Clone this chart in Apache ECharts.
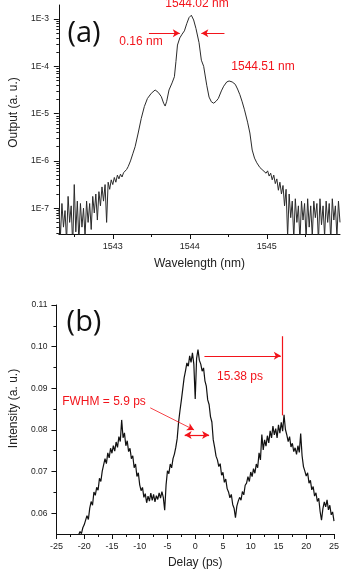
<!DOCTYPE html>
<html>
<head>
<meta charset="utf-8">
<title>Spectrum and autocorrelation</title>
<script src="https://cdn.jsdelivr.net/npm/echarts@6/dist/echarts.min.js"></script>
<style>
  html, body { margin: 0; padding: 0; background: #fff; }
  #chart { width: 342px; height: 571px; }
</style>
</head>
<body>
<div id="chart"></div>
<script>
// (a) output spectrum (values kept as log10 of the output)
var wavelength = [
  1542.30,1542.32,1542.34,1542.36,1542.38,1542.40,1542.42,1542.44,1542.46,1542.48,
  1542.50,1542.52,1542.54,1542.56,1542.58,1542.60,1542.62,1542.64,1542.66,1542.68,
  1542.70,1542.72,1542.74,1542.76,1542.78,1542.80,1542.82,1542.84,1542.86,1542.88,
  1542.90,1542.92,1542.94,1542.96,1542.98,1543.00,1543.02,1543.04,1543.06,1543.08,
  1543.10,1543.12,1543.14,1543.16,1543.18,1543.20,
  1543.23,1543.26,1543.29,1543.33,1543.37,1543.41,1543.45,1543.50,1543.55,1543.59,
  1543.63,1543.66,1543.68,1543.70,1543.73,1543.77,1543.80,1543.82,1543.84,1543.87,
  1543.90,1543.93,1543.96,1543.99,1544.02,1544.05,1544.08,1544.12,1544.15,1544.18,
  1544.22,1544.25,1544.28,1544.31,1544.34,1544.37,1544.41,1544.44,1544.48,1544.51,
  1544.55,1544.59,1544.62,1544.65,1544.68,1544.71,1544.75,1544.78,1544.81,1544.84,
  1544.87,
  1544.89,1544.91,1544.93,1544.95,1544.97,1544.99,1545.01,1545.03,1545.05,1545.07,
  1545.09,1545.11,1545.13,1545.15,1545.17,1545.19,1545.21,1545.23,1545.25,1545.27,
  1545.29,1545.31,1545.33,1545.35,1545.37,1545.39,1545.41,1545.43,1545.45,1545.47,
  1545.49,1545.51,1545.53,1545.55,1545.57,1545.59,1545.61,1545.63,1545.65,1545.67,
  1545.69,1545.71,1545.73,1545.75,1545.77,1545.79,1545.81,1545.83,1545.85,1545.87,
  1545.89,1545.91,1545.93,1545.95
];
var outputLog10 = [
  -7.00,-7.60,-6.90,-7.40,-7.05,-7.70,-6.75,-7.30,-6.95,-7.80,
  -6.50,-7.50,-6.85,-7.70,-6.90,-7.40,-7.00,-7.60,-6.85,-7.30,
  -6.90,-7.45,-6.75,-7.10,-6.70,-7.25,-6.65,-6.95,-6.55,-6.85,
  -6.50,-7.30,-6.45,-6.60,-6.40,-6.50,-6.35,-6.45,-6.30,-6.38,
  -6.28,-6.34,-6.25,-6.22,-6.18,-6.12,
  -6.00,-5.85,-5.70,-5.41,-5.10,-4.85,-4.68,-4.57,-4.50,-4.55,
  -4.64,-4.78,-4.84,-4.74,-4.50,-4.35,-4.22,-3.90,-3.55,-3.40,
  -3.32,-3.25,-3.10,-2.97,-2.92,-3.02,-3.20,-3.50,-3.87,-4.00,
  -4.40,-4.65,-4.75,-4.78,-4.74,-4.68,-4.52,-4.42,-4.33,-4.31,
  -4.33,-4.38,-4.48,-4.60,-4.75,-4.92,-5.18,-5.41,-5.77,-5.94,
  -6.04,
  -6.08,-6.14,-6.11,-6.20,-6.16,-6.26,-6.21,-6.32,-6.26,-6.40,
  -6.30,-6.48,-6.38,-6.62,-6.45,-6.70,-6.52,-6.95,-6.60,-7.60,
  -6.70,-7.20,-6.85,-7.65,-6.80,-7.30,-6.95,-7.70,-6.85,-7.25,
  -6.90,-7.65,-6.80,-7.40,-6.95,-7.60,-6.85,-7.20,-6.90,-7.70,
  -6.80,-7.35,-6.95,-7.60,-6.85,-7.30,-6.90,-7.70,-6.80,-7.25,
  -6.95,-7.60,-6.85,-7.30
];
var specTicks = [1e-7, 1e-6, 1e-5, 1e-4, 1e-3];
var specMinorTicks = [
  3e-8,4e-8,5e-8,6e-8,7e-8,8e-8,9e-8,
  2e-7,3e-7,4e-7,5e-7,6e-7,7e-7,8e-7,9e-7,
  2e-6,3e-6,4e-6,5e-6,6e-6,7e-6,8e-6,9e-6,
  2e-5,3e-5,4e-5,5e-5,6e-5,7e-5,8e-5,9e-5,
  2e-4,3e-4,4e-4,5e-4,6e-4,7e-4,8e-4,9e-4
];
var wlTicks = [1543, 1544, 1545];
var wlMinorTicks = [1542.5, 1543.5, 1544.5, 1545.5];

// (b) autocorrelation trace
var delay = [
  -21,-20.75,-20.5,-20.25,-20,-19.75,-19.5,-19.25,-19,-18.75,-18.5,-18.25,-18,-17.75,-17.5,-17.25,
  -17,-16.75,-16.5,-16.25,-16,-15.75,-15.5,-15.25,-15,-14.75,-14.5,-14.25,-14,-13.75,-13.5,-13.25,
  -13,-12.75,-12.5,-12.25,-12,-11.75,-11.5,-11.25,-11,-10.75,-10.5,-10.25,-10,-9.75,-9.5,-9.25,
  -9,-8.75,-8.5,-8.25,-8,-7.75,-7.5,-7.25,-7,-6.75,-6.5,-6.25,-6,-5.75,-5.5,-5.25,
  -5,-4.75,-4.5,-4.25,-4,-3.75,-3.5,-3.25,-3,-2.75,-2.5,-2.25,-2,-1.75,-1.5,-1.25,
  -1,-0.75,-0.5,-0.25,0,0.25,0.5,0.75,1,1.25,1.5,1.75,2,2.25,2.5,2.75,
  3,3.25,3.5,3.75,4,4.25,4.5,4.75,5,5.25,5.5,5.75,6,6.25,6.5,6.75,
  7,7.25,7.5,7.75,8,8.25,8.5,8.75,9,9.25,9.5,9.75,10,10.25,10.5,10.75,
  11,11.25,11.5,11.75,12,12.25,12.5,12.75,13,13.25,13.5,13.75,14,14.25,14.5,14.75,
  15,15.25,15.5,15.75,16,16.25,16.5,16.75,17,17.25,17.5,17.75,18,18.25,18.5,18.75,
  19,19.25,19.5,19.75,20,20.25,20.5,20.75,21,21.25,21.5,21.75,22,22.25,22.5,22.75,
  23,23.25,23.5,23.75,24,24.25,24.5,24.75,25
];
var intensity = [
  0.0548,0.0556,0.0551,0.0565,0.0572,0.0568,0.0594,0.0585,
  0.0612,0.0628,0.0619,0.0651,0.0643,0.0662,0.0655,0.0684,
  0.0676,0.0701,0.0705,0.0731,0.0719,0.0745,0.0733,0.0756,
  0.0744,0.0762,0.0749,0.0771,0.0758,0.0784,0.0772,0.0824,
  0.0781,0.0793,0.0762,0.0774,0.0748,0.0756,0.0731,0.0738,
  0.0709,0.0718,0.0688,0.0697,0.0668,0.0654,0.0662,0.0638,
  0.0647,0.0625,0.0641,0.0629,0.0648,0.0631,0.0645,0.0627,
  0.0642,0.0633,0.0649,0.0636,0.0652,0.0638,0.0607,0.0668,
  0.0702,0.0695,0.0718,0.0709,0.0731,0.0742,0.0758,0.0779,
  0.0818,0.0846,0.0871,0.0898,0.0925,0.0942,0.0961,0.0953,
  0.0978,0.0962,0.0985,0.0958,0.0874,0.0972,0.0993,0.0967,
  0.0958,0.0941,0.0949,0.0918,0.0905,0.0872,0.0861,0.0832,
  0.0819,0.0776,0.0758,0.0737,0.0728,0.0712,0.0719,0.0691,
  0.0698,0.0674,0.0682,0.0659,0.0651,0.0637,0.0645,0.0621,
  0.0612,0.0589,0.0617,0.0629,0.0638,0.0631,0.0652,0.0644,
  0.0667,0.0672,0.0688,0.0676,0.0699,0.0688,0.0707,0.0696,
  0.0718,0.0709,0.0745,0.0728,0.0789,0.0752,0.0776,0.0761,
  0.0786,0.0769,0.0798,0.0781,0.0809,0.0788,0.0803,0.0781,
  0.0812,0.0792,0.0818,0.0797,0.0836,0.0801,0.0788,0.0772,
  0.0784,0.0759,0.0768,0.0748,0.0757,0.0741,0.0762,0.0746,
  0.0791,0.0738,0.0712,0.0701,0.0689,0.0697,0.0672,0.0679,
  0.0656,0.0664,0.0641,0.0649,0.0628,0.0636,0.0604,0.0583,
  0.0611,0.0627,0.0615,0.0632,0.0608,0.0619,0.0596,0.0603,
  0.0581
];
var intTicks = [0.06, 0.07, 0.08, 0.09, 0.10, 0.11];
var intMinorTicks = [0.065, 0.075, 0.085, 0.095, 0.105];

var RED = '#f2141b';
var FONT = '"Liberation Sans", Arial, sans-serif';

var chart = echarts.init(document.getElementById('chart'), null, { renderer: 'canvas' });

var specData = wavelength.map(function (w, i) { return [w, Math.pow(10, outputLog10[i])]; });
var traceData = delay.map(function (d, i) { return [d, intensity[i]]; });

var axisLine = { show: true, onZero: false, lineStyle: { color: '#111', width: 1 } };
var noLine = { show: false, onZero: false };
var nameStyle = { fontSize: 12, color: '#222', fontFamily: FONT };
var tickColor = { color: '#111' };

function arrowPair(a, b, s0, s1, extra) {
  var p = [
    { coord: a, symbol: s0 },
    { coord: b, symbol: s1 }
  ];
  if (extra) p[0].lineStyle = extra;
  return p;
}

chart.setOption({
  animation: false,
  textStyle: { fontFamily: FONT },
  grid: [
    { left: 52, top: 5, width: 288, height: 229 },
    { left: 50, top: 305, width: 287, height: 229 }
  ],
  xAxis: [
    {
      gridIndex: 0, type: 'value', position: 'bottom', min: 1542.3, max: 1545.95,
      axisLine: axisLine,
      axisTick: { show: true, inside: false, length: 5, customValues: wlTicks, lineStyle: tickColor },
      axisLabel: { customValues: wlTicks, fontSize: 9, color: '#222', margin: 8,
        formatter: function (v) { return String(Math.round(v)); } },
      splitLine: { show: false },
      name: 'Wavelength (nm)', nameLocation: 'middle', nameGap: 24, nameTextStyle: nameStyle
    },
    {
      gridIndex: 0, type: 'value', position: 'bottom', min: 1542.3, max: 1545.95,
      axisLine: noLine,
      axisTick: { show: true, inside: false, length: 3, customValues: wlMinorTicks, lineStyle: tickColor },
      axisLabel: { show: false },
      splitLine: { show: false }
    },
    {
      gridIndex: 1, type: 'value', position: 'bottom', min: -25, max: 25, interval: 5,
      axisLine: axisLine,
      axisTick: { show: true, inside: false, length: 5, lineStyle: tickColor },
      minorTick: { show: true, splitNumber: 2, length: 3, lineStyle: tickColor },
      axisLabel: { fontSize: 9, color: '#222', margin: 8 },
      splitLine: { show: false },
      name: 'Delay (ps)', nameLocation: 'middle', nameGap: 23, nameTextStyle: nameStyle
    }
  ],
  yAxis: [
    {
      gridIndex: 0, type: 'log', logBase: 10, position: 'left', min: 2.85e-8, max: 1.98e-3,
      axisLine: axisLine,
      axisTick: { show: true, inside: false, length: 5, customValues: specTicks, lineStyle: tickColor },
      axisLabel: {
        customValues: specTicks, fontSize: 8.5, color: '#222', margin: 10,
        formatter: function (v) { return '1E' + Math.round(Math.log10(v)); }
      },
      splitLine: { show: false },
      name: 'Output (a. u.)', nameLocation: 'middle', nameGap: 37,
      nameTextStyle: Object.assign({ padding: [0, 0, 0, 14] }, nameStyle)
    },
    {
      gridIndex: 0, type: 'log', logBase: 10, position: 'left', min: 2.85e-8, max: 1.98e-3,
      axisLine: noLine,
      axisTick: { show: true, inside: false, length: 2.5, customValues: specMinorTicks, lineStyle: tickColor },
      axisLabel: { show: false },
      splitLine: { show: false }
    },
    {
      gridIndex: 1, type: 'value', position: 'left', min: 0.055, max: 0.11,
      axisLine: axisLine,
      axisTick: { show: true, inside: false, length: 5, customValues: intTicks, lineStyle: tickColor },
      axisLabel: {
        customValues: intTicks, fontSize: 8.5, color: '#222', margin: 9,
        formatter: function (v) { return v.toFixed(2); }
      },
      splitLine: { show: false },
      name: 'Intensity (a. u.)', nameLocation: 'middle', nameGap: 36,
      nameTextStyle: Object.assign({ padding: [0, 0, 0, 22] }, nameStyle)
    },
    {
      gridIndex: 1, type: 'value', position: 'left', min: 0.055, max: 0.11,
      axisLine: noLine,
      axisTick: { show: true, inside: false, length: 3, customValues: intMinorTicks, lineStyle: tickColor },
      axisLabel: { show: false },
      splitLine: { show: false }
    }
  ],
  series: [
    {
      name: 'spectrum', type: 'line', xAxisIndex: 0, yAxisIndex: 0,
      data: specData, showSymbol: false, clip: true,
      lineStyle: { color: '#2b2b2b', width: 1 },
      markLine: {
        silent: true, symbolSize: [6, 7], label: { show: false },
        lineStyle: { color: RED, width: 1, type: 'solid' },
        data: [
          arrowPair([1543.47, 5.0e-4], [1543.87, 5.0e-4], 'none', 'arrow'),
          arrowPair([1544.45, 5.0e-4], [1544.15, 5.0e-4], 'none', 'arrow')
        ]
      }
    },
    {
      name: 'trace', type: 'line', xAxisIndex: 2, yAxisIndex: 2,
      data: traceData, showSymbol: false, clip: true,
      lineStyle: { color: '#111', width: 1.2 },
      markLine: {
        silent: true, symbolSize: [6, 7], label: { show: false },
        lineStyle: { color: RED, width: 1.2, type: 'solid' },
        data: [
          arrowPair([15.6, 0.1025], [15.6, 0.0835], 'none', 'none'),
          arrowPair([1.66, 0.0978], [15.42, 0.0978], 'none', 'arrow'),
          arrowPair([-1.9, 0.0788], [2.5, 0.0788], 'arrow', 'arrow'),
          arrowPair([-8.1, 0.0853], [-0.2, 0.0800], 'none', 'arrow', { curveness: 0.2, width: 0.8 })
        ]
      }
    }
  ],
  graphic: [
    { type: 'text', x: 84, y: 34, style: { text: '(a)', fill: '#111', font: '29px "Open Sans", sans-serif', align: 'center', verticalAlign: 'middle' } },
    { type: 'text', x: 84, y: 323, style: { text: '(b)', fill: '#111', font: '29px "Open Sans", sans-serif', align: 'center', verticalAlign: 'middle' } },
    { type: 'text', x: 197, y: 4, style: { text: '1544.02 nm', fill: RED, font: '12px ' + FONT, align: 'center', verticalAlign: 'middle' } },
    { type: 'text', x: 141, y: 42, style: { text: '0.16 nm', fill: RED, font: '12px ' + FONT, align: 'center', verticalAlign: 'middle' } },
    { type: 'text', x: 263, y: 67, style: { text: '1544.51 nm', fill: RED, font: '12px ' + FONT, align: 'center', verticalAlign: 'middle' } },
    { type: 'text', x: 240, y: 377, style: { text: '15.38 ps', fill: RED, font: '12px ' + FONT, align: 'center', verticalAlign: 'middle' } },
    { type: 'text', x: 104, y: 402, style: { text: 'FWHM = 5.9 ps', fill: RED, font: '12px ' + FONT, align: 'center', verticalAlign: 'middle' } }
  ]
});
</script>
</body>
</html>
